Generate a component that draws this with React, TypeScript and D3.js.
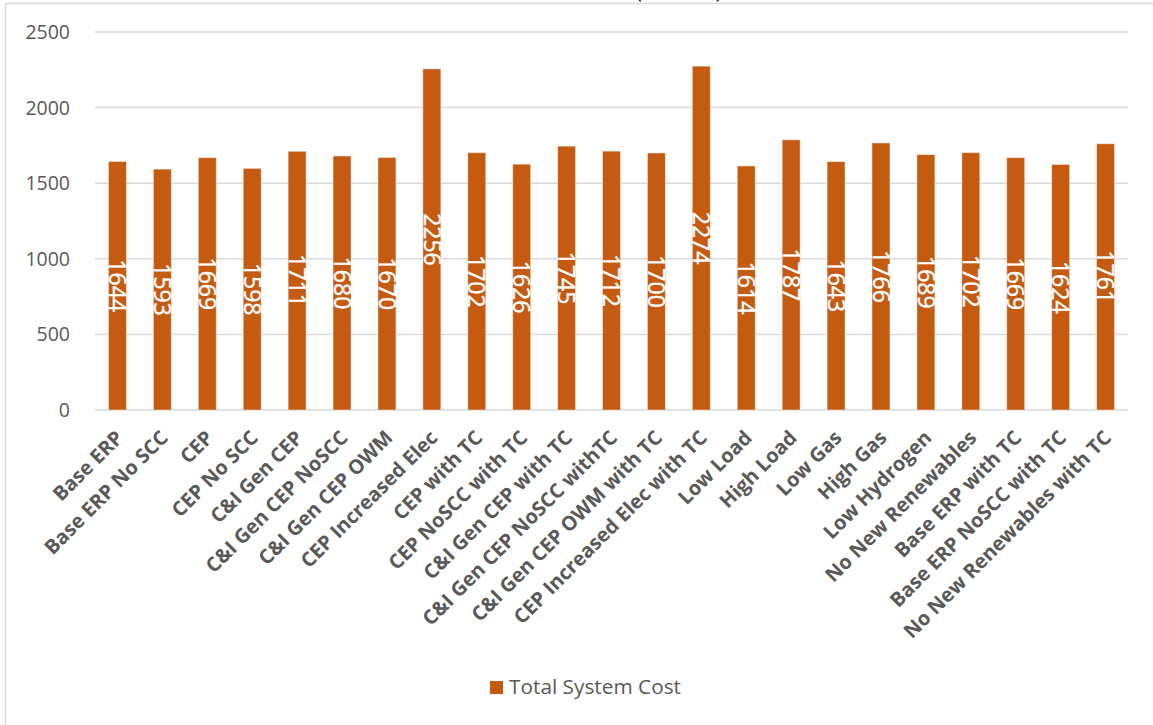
import React from "react";
import * as d3 from "d3";

const categories: string[] = [
  "Base ERP",
  "Base ERP No SCC",
  "CEP",
  "CEP No SCC",
  "C&I Gen CEP",
  "C&I Gen CEP NoSCC",
  "C&I Gen CEP OWM",
  "CEP Increased Elec",
  "CEP with TC",
  "CEP NoSCC with TC",
  "C&I Gen CEP with TC",
  "C&I Gen CEP NoSCC withTC",
  "C&I Gen CEP OWM with TC",
  "CEP Increased Elec with TC",
  "Low Load",
  "High Load",
  "Low Gas",
  "High Gas",
  "Low Hydrogen",
  "No New Renewables",
  "Base ERP with TC",
  "Base ERP NoSCC with TC",
  "No New Renewables with TC",
];

const totalSystemCost: number[] = [
  1644, 1593, 1669, 1598, 1711, 1680, 1670, 2256, 1702, 1626, 1745, 1712,
  1700, 2274, 1614, 1787, 1643, 1766, 1689, 1702, 1669, 1624, 1761,
];

const yTicks: number[] = [0, 500, 1000, 1500, 2000, 2500];

const seriesName = "Total System Cost";
const chartTitle = "Total Cost ($Million)";

const W = 1153;
const H = 725;
const plot = { left: 95, right: 1128, top: 32, bottom: 410 };
const barColor = "#C55A11";
const gridColor = "#D9D9D9";
const textColor = "#595959";
const font = "'Open Sans', 'DejaVu Sans', sans-serif";

export default function App() {
  const x = d3
    .scaleBand<string>()
    .domain(categories)
    .range([plot.left, plot.right])
    .paddingInner(0.6)
    .paddingOuter(0.3);
  const y = d3.scaleLinear().domain([0, 2500]).range([plot.bottom, plot.top]);

  return (
    <svg
      width={W}
      height={H}
      style={{ position: "absolute", left: 0, top: 0, background: "#fff" }}
    >
      <rect
        x={5.5}
        y={3.5}
        width={W + 10}
        height={H + 10}
        fill="#fff"
        stroke={gridColor}
        strokeWidth={1.5}
      />
      {/* chart title sits mostly above the visible frame */}
      <text x={538} y={-2} fontFamily={font} fontSize={20} fill="#000">
        {chartTitle}
      </text>

      {yTicks.map((t) => (
        <g key={t}>
          <line
            x1={plot.left}
            x2={plot.right}
            y1={y(t)}
            y2={y(t)}
            stroke={gridColor}
            strokeWidth={1.5}
          />
          <text
            x={70}
            y={y(t)}
            dy="0.36em"
            textAnchor="end"
            fontFamily={font}
            fontSize={19.5}
            fill={textColor}
          >
            {t}
          </text>
        </g>
      ))}

      {categories.map((c, i) => {
        const v = totalSystemCost[i];
        const bx = x(c)!;
        const bw = x.bandwidth();
        const cx = bx + bw / 2;
        const midY = (y(v) + y(0)) / 2;
        return (
          <g key={c}>
            <rect
              x={bx}
              y={y(v)}
              width={bw}
              height={y(0) - y(v)}
              fill={barColor}
              stroke="rgba(255,255,255,0.45)"
              strokeWidth={1}
            />
            <text
              transform={`translate(${cx},${midY}) rotate(90)`}
              textAnchor="middle"
              dy="0.36em"
              fontFamily={font}
              fontSize={23}
              fill="#fff"
              stroke="#fff"
              strokeWidth={0.4}
            >
              {v}
            </text>
            <text
              transform={`translate(${cx + 7},${plot.bottom + 29}) rotate(-45)`}
              textAnchor="end"
              fontFamily={font}
              fontWeight={700}
              fontSize={20}
              fill={textColor}
            >
              {c}
            </text>
          </g>
        );
      })}

      <rect x={490} y={681} width={13} height={13} fill={barColor} />
      <text x={509} y={694} fontFamily={font} fontSize={20.8} fill={textColor}>
        {seriesName}
      </text>
    </svg>
  );
}
